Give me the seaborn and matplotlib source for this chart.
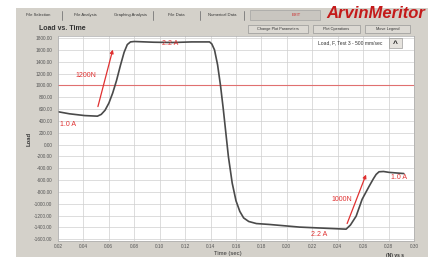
import numpy as np
import pandas as pd
import matplotlib.pyplot as plt
import matplotlib.patches as mpatches
import seaborn as sns

# curve: time (sec) vs load
time_sec = [0.020, 0.029, 0.041, 0.051, 0.054, 0.057, 0.060, 0.063, 0.066, 0.069,
            0.072, 0.0745, 0.077, 0.080, 0.095, 0.110, 0.125, 0.1392, 0.1410, 0.1431,
            0.1455, 0.1478, 0.150, 0.152, 0.154, 0.157, 0.160, 0.163, 0.166, 0.170,
            0.176, 0.186, 0.210, 0.2466, 0.2500, 0.2545, 0.2592, 0.2647, 0.2680, 0.2702,
            0.2725, 0.2760, 0.2804, 0.292]
load = [555, 520, 490, 480, 510, 580, 700, 870, 1080, 1330,
        1560, 1690, 1735, 1742, 1730, 1725, 1735, 1735, 1700, 1600,
        1350, 1000, 600, 200, -200, -650, -950, -1130, -1240, -1300,
        -1335, -1350, -1395, -1430, -1360, -1210, -925, -705, -580, -505,
        -460, -455, -470, -490]

x_ticks = [0.02, 0.04, 0.06, 0.08, 0.10, 0.12, 0.14, 0.16, 0.18, 0.20, 0.22, 0.24, 0.26, 0.28, 0.30]
y_ticks = list(range(-1600, 1801, 200))
ref_load = 1000

# annotations: (text, time, load, align)
labels = [("1.0 A", 0.0216, 338, "left"),
          ("1200N", 0.0420, 1166, "center"),
          ("2.2 A", 0.1078, 1715, "center"),
          ("2.2 A", 0.2254, -1521, "center"),
          ("1000N", 0.2435, -930, "center"),
          ("1.0 A", 0.2882, -558, "center")]
arrows = [((0.0514, 642), (0.0631, 1605)),
          ((0.2474, -1335), (0.2623, -507))]

W, H = 430, 257
def px(x, y):
    return x / W, 1 - y / H

sns.set_style("white")
plt.rcParams['font.family'] = ['Liberation Sans', 'DejaVu Sans']

fig = plt.figure(figsize=(4.3, 2.57), dpi=100)
fig.patch.set_facecolor('white')

gray = '#d4d1ca'
fig.patches.append(mpatches.Rectangle(px(16, 257), 412 / W, 249 / H, transform=fig.transFigure,
                                      facecolor=gray, edgecolor='none', zorder=0))

# tab bar
tabs = [("File Selection", 38), ("File Analysis", 85), ("Graphing Analysis", 131),
        ("File Data", 176), ("Numerical Data", 222)]
for name, xc in tabs:
    fig.text(*px(xc, 15), name, fontsize=3, ha='center', va='center', color='#333333')
for xs in [62, 153, 200, 244]:
    fig.lines.append(plt.Line2D([xs / W, xs / W], [1 - 11 / H, 1 - 20 / H], transform=fig.transFigure,
                                color='#777777', lw=0.6))
fig.patches.append(mpatches.Rectangle(px(250, 20), 70 / W, 10 / H, transform=fig.transFigure,
                                      facecolor='#c9c6c0', edgecolor='#999999', lw=0.4))
fig.text(*px(296, 15), "EXIT", fontsize=3, ha='center', va='center', color='#cc2222')
fig.text(*px(376, 13), "ArvinMeritor", fontsize=12, fontweight='bold', fontstyle='italic',
         ha='center', va='center', color='#c41a1a')

# buttons
for name, x0, x1 in [("Change Plot Parameters", 248, 308), ("Plot Operations", 313, 360),
                     ("Move Legend", 365, 410)]:
    fig.patches.append(mpatches.Rectangle(px(x0, 33), (x1 - x0) / W, 8 / H, transform=fig.transFigure,
                                          facecolor='#dcd9d3', edgecolor='#888888', lw=0.4))
    fig.text(*px((x0 + x1) / 2, 29), name, fontsize=2.8, ha='center', va='center', color='#333333')

fig.text(*px(39, 28), "Load vs. Time", fontsize=5, fontweight='bold', ha='left', va='center',
         color='#333333')

ax = fig.add_axes([58 / W, 1 - 241 / H, 356 / W, 205 / H])
ax.set_zorder(2)
ax.set_facecolor('white')

sns.lineplot(x=time_sec, y=load, ax=ax, color='#4a4a4a', lw=1.2, sort=False)
ax.axhline(ref_load, color='#e07070', lw=0.8, zorder=1)

ax.set_xlim(0.02, 0.30)
ax.set_ylim(-1630, 1835)
ax.set_xticks(x_ticks)
ax.set_yticks(y_ticks)
ax.set_xticklabels([f"{v:.2f}" for v in x_ticks])
ax.set_yticklabels([f"{v:.2f}" for v in y_ticks])
ax.grid(True, color='#cfcfcf', lw=0.5)
ax.tick_params(labelsize=3.4, colors='#555555', length=1.5, width=0.4)
ax.tick_params(axis='y', pad=2.5)
ax.tick_params(axis='x', pad=1.0)
for s in ax.spines.values():
    s.set_color('#aaaaaa')
    s.set_linewidth(0.5)
ax.set_xlabel("")
ax.set_ylabel("")

for text, t, l, ha in labels:
    ax.text(t, l, text, fontsize=5, color='#e03030', ha=ha, va='center')
for (t0, l0), (t1, l1) in arrows:
    ax.annotate("", xy=(t1, l1), xytext=(t0, l0),
                arrowprops=dict(arrowstyle='-|>', color='#e03030', lw=0.9,
                                mutation_scale=5, shrinkA=0, shrinkB=0))

# legend box
fig.text(*px(350, 43), "Load, F, Test 3 - 500 mm/sec", fontsize=3.6, ha='center', va='center',
         color='#333333', zorder=5)
fig.patches.append(mpatches.Rectangle(px(389, 48), 13 / W, 10 / H, transform=fig.transFigure,
                                      facecolor='#e6e3de', edgecolor='#888888', lw=0.4, zorder=5))
fig.text(*px(395.5, 44), "^", fontsize=6, fontweight='bold', ha='center', va='center',
         color='#222222', zorder=6)

fig.text(*px(29, 139), "Load", fontsize=4.2, fontweight='bold', rotation=90, ha='center',
         va='center', color='#333333')
fig.text(*px(228, 253.5), "Time (sec)", fontsize=4.2, ha='center', va='center', color='#333333')
fig.text(*px(395, 255), "(N) vs s", fontsize=3.5, fontweight='bold', ha='center', va='center',
         color='#333333')

fig.savefig("out.png", dpi=100)
